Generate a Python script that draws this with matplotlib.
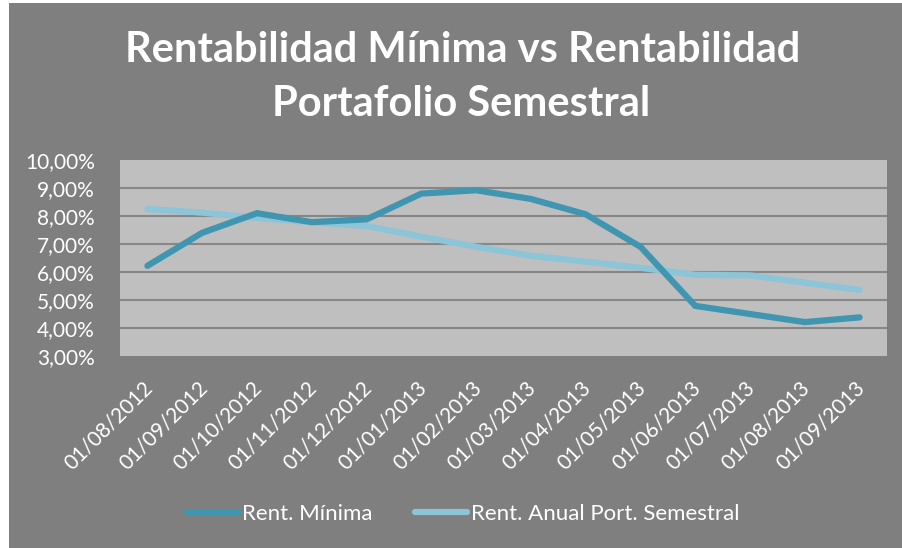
import matplotlib
matplotlib.use("Agg")
import matplotlib.pyplot as plt
from matplotlib.patches import Rectangle
from matplotlib.ticker import FuncFormatter, MultipleLocator
from matplotlib.transforms import ScaledTranslation

fechas = ["01/08/2012", "01/09/2012", "01/10/2012", "01/11/2012", "01/12/2012",
          "01/01/2013", "01/02/2013", "01/03/2013", "01/04/2013", "01/05/2013",
          "01/06/2013", "01/07/2013", "01/08/2013", "01/09/2013"]
rent_minima = [6.22, 7.40, 8.10, 7.78, 7.88, 8.80, 8.92, 8.61, 8.06, 6.90,
               4.79, 4.50, 4.21, 4.38]
rent_anual = [8.25, 8.12, 7.93, 7.78, 7.64, 7.26, 6.90, 6.58, 6.37, 6.15,
              5.90, 5.88, 5.62, 5.36]

plt.rcParams['font.family'] = ['Lato', 'DejaVu Sans']

W, H = 903, 548
fig = plt.figure(figsize=(W / 100, H / 100), dpi=100, facecolor='white')
fig.patches.append(Rectangle((9 / W, 0), 1 - 9 / W, 1 - 3 / H, transform=fig.transFigure,
                             facecolor='#7f7f7f', edgecolor='none', zorder=-10))

ax = fig.add_axes([120 / W, 1 - 356 / H, 767 / W, 196 / H])
ax.set_facecolor('#bfbfbf')
x = list(range(len(fechas)))
ax.plot(x, rent_minima, color='#4096b0', lw=4.5, solid_capstyle='round',
        solid_joinstyle='miter', label='Rent. Mínima', zorder=3)
ax.plot(x, rent_anual, color='#8cc4d8', lw=4.5, solid_capstyle='round',
        solid_joinstyle='miter', label='Rent. Anual Port. Semestral', zorder=2)
ax.set_xlim(-0.5, len(fechas) - 0.5)
ax.set_ylim(3, 10)
ax.yaxis.set_major_locator(MultipleLocator(1))
ax.yaxis.set_major_formatter(FuncFormatter(lambda v, p: f"{v:.2f}".replace('.', ',') + '%'))
ax.set_xticks(x)
ax.set_xticklabels(fechas, rotation=45, ha='right', va='top', rotation_mode='anchor')
for s in ax.spines.values():
    s.set_visible(False)
ax.tick_params(axis='both', length=0, colors='white', labelsize=15)
ax.tick_params(axis='y', pad=18)
ax.tick_params(axis='x', pad=8)
off = ScaledTranslation(-5 / 100, -10 / 100, fig.dpi_scale_trans)
for lab in ax.get_xticklabels():
    lab.set_transform(lab.get_transform() + off)
for yv in range(4, 10):
    ax.axhline(yv, color='#878787', lw=1.5, zorder=1)

fig.text(463 / W, 1 - 50 / H, 'Rentabilidad Mínima vs Rentabilidad', ha='center', va='center',
         color='white', fontsize=30, fontweight='bold')
fig.text(461 / W, 1 - 104 / H, 'Portafolio Semestral', ha='center', va='center',
         color='white', fontsize=30, fontweight='bold')

leg = fig.legend(loc='center', bbox_to_anchor=(463 / W, 1 - 514 / H), ncol=2, frameon=False,
                 fontsize=16, handlelength=2.35, handletextpad=0.15, columnspacing=1.9)
for t in leg.get_texts():
    t.set_color('white')

fig.savefig('out.png', dpi=100, facecolor=fig.get_facecolor())
